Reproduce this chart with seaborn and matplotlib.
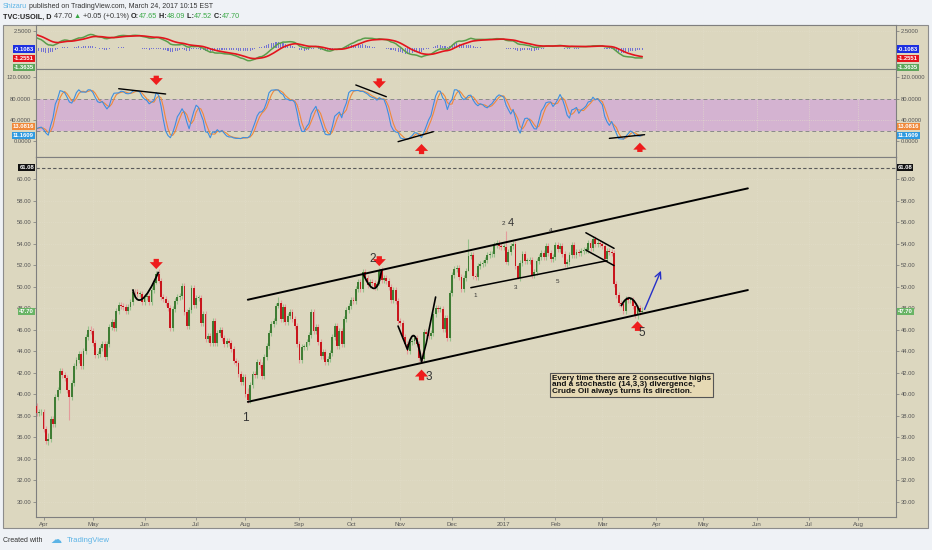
import numpy as np
import pandas as pd
import seaborn as sns
import matplotlib.pyplot as plt
from matplotlib.path import Path
from matplotlib.patches import PathPatch, Rectangle

sns.set_style('white')
plt.rcParams['font.family'] = ['Liberation Sans', 'DejaVu Sans']

W, H = 932, 550
BG = '#dcd7bf'
PAGE = '#eff2f6'
UP, DOWN = '#3f7d34', '#c8161d'
UP_WICK, DOWN_WICK = '#97c18c', '#e49c9c'

# ---- TVC:USOIL daily closes (first bar 2016-03-29) ----
close_mar16 = [38.28, 38.32, 38.34]
close_apr16 = [36.79, 35.70, 35.89, 37.75, 37.26, 39.72, 40.36, 42.17, 41.76, 41.50, 40.36,
               39.78, 41.08, 42.63, 43.18, 43.73, 42.64, 44.04, 45.33, 46.03, 45.92]
close_may16 = [44.78, 43.65, 43.78, 44.32, 44.66, 43.44, 44.66, 46.23, 46.70, 46.21, 47.72,
               48.31, 48.19, 48.16, 47.75, 48.08, 48.62, 49.56, 49.48, 49.33, 49.33, 48.58]
close_jun16 = [49.01, 49.17, 48.62, 49.69, 50.36, 51.23, 50.56, 49.07, 48.88, 48.49, 48.01,
               46.21, 47.98, 48.68, 49.07, 49.13, 50.11, 47.64, 46.33, 47.85, 49.88, 48.33]
close_jul16 = [48.99, 48.99, 46.60, 47.43, 45.14, 45.41, 44.76, 46.80, 44.75, 45.68, 45.95,
               45.24, 44.65, 44.94, 44.75, 44.19, 43.13, 42.92, 41.92, 41.14, 41.60]
close_aug16 = [40.06, 39.51, 40.83, 41.93, 41.80, 43.02, 42.77, 41.71, 43.49, 44.49, 45.74,
               46.58, 46.79, 48.22, 48.52, 47.05, 48.10, 46.77, 47.33, 47.64, 46.98, 46.35, 44.70]
close_sep16 = [43.16, 44.44, 44.44, 44.83, 45.50, 47.62, 45.88, 46.29, 44.90, 43.58, 43.91,
               43.03, 43.30, 43.85, 45.34, 46.32, 44.48, 45.93, 44.67, 47.05, 47.83, 48.24]
close_oct16 = [48.81, 48.69, 49.83, 50.44, 49.81, 51.35, 50.79, 50.18, 50.44, 50.35, 49.94,
               50.29, 51.60, 50.63, 50.85, 50.52, 49.96, 48.78, 49.72, 48.70, 46.86]
close_nov16 = [46.67, 45.34, 44.66, 44.07, 44.89, 44.98, 45.27, 44.66, 43.41, 43.32, 45.81,
               45.57, 45.42, 45.69, 47.49, 48.03, 47.96, 47.96, 46.06, 47.08, 45.23, 49.44]
close_dec16 = [51.06, 51.68, 51.79, 50.93, 49.77, 50.84, 51.50, 52.83, 52.98, 51.04, 50.90,
               51.90, 52.12, 52.23, 52.49, 52.95, 53.02, 53.02, 53.90, 54.06, 53.77, 53.72]
close_jan17 = [53.72, 52.33, 53.26, 53.76, 53.99, 51.96, 50.82, 52.25, 53.01, 52.37, 52.37,
               52.48, 51.08, 51.37, 52.42, 52.75, 53.18, 52.75, 53.78, 53.17, 52.63, 52.81]
close_feb17 = [53.88, 53.54, 53.83, 53.01, 52.17, 52.34, 53.00, 53.86, 52.93, 53.20, 53.11,
               53.36, 53.40, 53.40, 54.06, 53.59, 54.45, 53.99, 54.05, 54.01]
close_mar17 = [53.83, 52.61, 53.33, 53.20, 53.14, 50.28, 49.28, 48.49, 48.40, 47.72, 48.86,
               48.75, 48.78, 48.22, 47.34, 48.04, 47.65, 47.70]
first_open = 38.90
wick = 0.28

# bars whose wicks stick out further
spike_dates = ['2016-04-05', '2016-04-18', '2016-06-08', '2016-06-09', '2016-08-02', '2016-08-19',
               '2016-10-19', '2016-11-14', '2016-12-12', '2017-01-03', '2017-01-10',
               '2017-03-22', '2017-03-24']
spike_high = [36.40, 40.40, 51.45, 51.67, 40.60, 49.05, 51.75, 43.90, 54.45, 55.24, 52.10, 48.30, 48.09]
spike_low = [35.24, 37.61, 50.30, 50.40, 39.19, 48.00, 50.20, 42.90, 51.90, 52.10, 50.75, 47.05, 47.52]

# indicator start states (from the first visible indicator values)
ema12_seed, ema26_seed, signal_seed = 38.9, 37.2, 2.06

# labels shown on the scales
macd_tags = [('-0.1083', -0.1083, '#1c2fe0', 0), ('-1.2551', -1.2551, '#e3141d', -1.4),
             ('-1.3635', -1.3635, '#5da55a', -6.8)]
stoch_tags = [('13.0816', 13.0816, '#f0893a', 5.8), ('11.1609', 11.1609, '#2f9ae0', 0)]
price_tags = [('61.08', 61.08, '#111111'), ('47.70', 47.70, '#69b465')]

month_dates = ['2016-04-01', '2016-05-02', '2016-06-01', '2016-07-01', '2016-08-01', '2016-09-01',
               '2016-10-03', '2016-11-01', '2016-12-01', '2017-01-02', '2017-02-01', '2017-03-01',
               '2017-04-03', '2017-05-01', '2017-06-01', '2017-07-03', '2017-08-01']
month_labels = ['Apr', 'May', 'Jun', 'Jul', 'Aug', 'Sep', 'Oct', 'Nov', 'Dec', '2017', 'Feb', 'Mar',
                'Apr', 'May', 'Jun', 'Jul', 'Aug']

closes = (close_mar16 + close_apr16 + close_may16 + close_jun16 + close_jul16 + close_aug16 +
          close_sep16 + close_oct16 + close_nov16 + close_dec16 + close_jan17 + close_feb17 + close_mar17)
dates = pd.bdate_range('2016-03-29', '2017-09-29')
n = len(closes)
df = pd.DataFrame({'date': dates[:n], 'close': closes})
df['open'] = df['close'].shift(1).fillna(first_open)
df['high'] = df[['open', 'close']].max(axis=1) + wick
df['low'] = df[['open', 'close']].min(axis=1) - wick
for d, h, l in zip(spike_dates, spike_high, spike_low):
    i = dates.get_loc(pd.Timestamp(d))
    df.loc[i, 'high'] = max(h, df.loc[i, ['open', 'close']].max())
    df.loc[i, 'low'] = min(l, df.loc[i, ['open', 'close']].min())
df['i'] = np.arange(n)


def bar(d):
    return dates.get_loc(pd.Timestamp(d))


# stochastic (14,3,3)
hh = df['high'].rolling(14, min_periods=1).max()
ll = df['low'].rolling(14, min_periods=1).min()
df['k'] = (100 * (df['close'] - ll) / (hh - ll)).rolling(3, min_periods=1).mean()
df['d'] = df['k'].rolling(3, min_periods=1).mean()


# MACD (12,26,9)
def ema(values, seed, span):
    s = pd.concat([pd.Series([seed]), pd.Series(values)], ignore_index=True)
    return s.ewm(span=span, adjust=False).mean().iloc[1:].to_numpy()


df['macd'] = ema(df['close'], ema12_seed, 12) - ema(df['close'], ema26_seed, 26)
df['signal'] = ema(df['macd'], signal_seed, 9)
df['hist'] = df['macd'] - df['signal']

# ---------------- figure ----------------
fig = plt.figure(figsize=(W / 100, H / 100), dpi=100)
fig.patch.set_facecolor(PAGE)


def fx(x):
    return x / W


def fy(y):
    return 1 - y / H


fig.add_artist(Rectangle((fx(3), fy(528)), (928 - 3) / W, (528 - 25) / H, transform=fig.transFigure,
                         fc=BG, ec='#8c8c8c', lw=0.8, zorder=-5))

L, R = 35.7, 896
ax_m = fig.add_axes([fx(L), fy(69.3), (R - L) / W, (69.3 - 25) / H])
ax_s = fig.add_axes([fx(L), fy(157.3), (R - L) / W, (157.3 - 69.3) / H])
ax_p = fig.add_axes([fx(L), fy(517.3), (R - L) / W, (517.3 - 157.3) / H])

month_idx = [bar(d) for d in month_dates]
for ax in (ax_m, ax_s, ax_p):
    ax.set_facecolor(BG)
    ax.set_xlim(-0.35, 366.1)
    for s in ax.spines.values():
        s.set_color('#7f7f7f')
        s.set_linewidth(0.8)
    ax.set_xticks(month_idx)
    ax.tick_params(axis='y', left=True, right=True, labelleft=True, labelright=True, length=2,
                   width=0.5, pad=1.2, labelsize=4.2, labelcolor='#555555', color='#777777')
    ax.tick_params(axis='x', bottom=False, labelbottom=False)
    ax.grid(True, color='#e3dfcb', lw=0.5, ls=':')

# --- MACD pane (only the top scale label is not hidden behind the value tags)
ax_m.set_ylim(-3.05, 3.37)
ax_m.set_yticks([2.5])
ax_m.set_yticklabels(['2.5000'])
ax_m.bar(df['i'], df['hist'], width=0.45, color='#5a5ad8', linewidth=0, alpha=0.8)
sns.lineplot(x=df['i'], y=df['macd'], ax=ax_m, color='#5a9e4b', lw=1.1, legend=False)
sns.lineplot(x=df['i'], y=df['signal'], ax=ax_m, color='#e3141d', lw=1.2, legend=False)
ax_m.set_xlabel('')
ax_m.set_ylabel('')

# --- stochastic pane
ax_s.set_ylim(-30, 135)
ax_s.set_yticks([120, 80, 40, 0])
ax_s.set_yticklabels(['120.0000', '80.0000', '40.0000', '0.0000'])
ax_s.axhspan(20, 80, color='#d4b3d1', zorder=0.5, lw=0)
for lvl in (20, 80):
    ax_s.axhline(lvl, color='#8a8a8a', lw=0.7, ls=(0, (4, 3)), zorder=1)
sns.lineplot(x=df['i'], y=df['d'], ax=ax_s, color='#f0893a', lw=0.8, legend=False)
sns.lineplot(x=df['i'], y=df['k'], ax=ax_s, color='#3d8fe0', lw=0.8, legend=False)
ax_s.set_xlabel('')
ax_s.set_ylabel('')

# --- price pane
ax_p.set_ylim(28.56, 62.05)
ticks = np.arange(30, 61, 2)
ax_p.set_yticks(ticks)
ax_p.set_yticklabels([f'{t:.2f}' for t in ticks])
ax_p.tick_params(axis='x', bottom=True, labelbottom=True, length=2, width=0.5, pad=1.2,
                 labelsize=4.4, labelcolor='#555555', color='#777777')
ax_p.set_xticklabels(month_labels)
ax_p.axhline(61.08, color='#5a5a5a', lw=0.8, ls=(0, (3, 2)))

up = df['close'] >= df['open']
ax_p.vlines(df['i'], df['low'], df['high'], colors=np.where(up, UP_WICK, DOWN_WICK), lw=0.8, zorder=2)
ax_p.bar(df['i'], np.maximum((df['close'] - df['open']).abs(), 0.08),
         bottom=np.minimum(df['open'], df['close']), width=0.78,
         color=np.where(up, UP, DOWN), linewidth=0, zorder=3)


# ---------- annotations ----------
def seg(ax, pts, lw=1.4, color='black'):
    xs = [bar(d) for d, _ in pts]
    ys = [v for _, v in pts]
    ax.plot(xs, ys, color=color, lw=lw, solid_capstyle='round', zorder=5)


def arc(ax, p0, mid, p2, lw=1.3):
    x0, y0 = bar(p0[0]), p0[1]
    x1, y1 = bar(mid[0]), mid[1]
    x2, y2 = bar(p2[0]), p2[1]
    cx, cy = 2 * x1 - (x0 + x2) / 2, 2 * y1 - (y0 + y2) / 2
    path = Path([(x0, y0), (cx, cy), (x2, y2)], [Path.MOVETO, Path.CURVE3, Path.CURVE3])
    ax.add_patch(PathPatch(path, fc='none', ec='black', lw=lw, zorder=5))


def red_arrow(ax, d, tail, tip):
    ax.annotate('', xy=(bar(d), tip), xytext=(bar(d), tail), zorder=6,
                arrowprops=dict(arrowstyle='simple,head_length=0.5,head_width=0.95,tail_width=0.38',
                                color='#ee1c1c', lw=0, shrinkA=0, shrinkB=0))


def label(ax, d, y, s, size=8.5):
    ax.text(bar(d), y, s, fontsize=size, color='#333333', ha='center', va='center', zorder=6)


# channel
seg(ax_p, [('2016-08-02', 48.8), ('2017-05-26', 59.16)])
seg(ax_p, [('2016-08-02', 39.3), ('2017-05-26', 49.7)])
# inner support and March flag
seg(ax_p, [('2016-12-13', 49.92), ('2017-03-03', 52.43)], lw=1.1)
seg(ax_p, [('2017-02-20', 55.03), ('2017-03-08', 53.58)], lw=1.1)
seg(ax_p, [('2017-02-20', 53.42), ('2017-03-08', 51.98)], lw=1.1)
# swing sketches
arc(ax_p, ('2016-05-25', 49.77), ('2016-05-31', 48.86), ('2016-06-09', 51.4))
arc(ax_p, ('2016-10-10', 51.26), ('2016-10-17', 49.86), ('2016-10-20', 51.65))
seg(ax_p, [('2016-10-31', 46.35), ('2016-11-04', 44.18)], lw=1.2)
arc(ax_p, ('2016-11-04', 44.18), ('2016-11-09', 45.42), ('2016-11-14', 43.05))
seg(ax_p, [('2016-11-14', 43.05), ('2016-11-16', 44.74), ('2016-11-22', 49.05)], lw=1.2)
arc(ax_p, ('2017-03-13', 48.21), ('2017-03-17', 48.95), ('2017-03-23', 47.65))
ax_p.annotate('', xy=(bar('2017-04-05'), 51.5), xytext=(bar('2017-03-27'), 47.9), zorder=6,
              arrowprops=dict(arrowstyle='->,head_length=0.45,head_width=0.22', color='#2630c8', lw=1.0,
                              shrinkA=0, shrinkB=0))

red_arrow(ax_p, '2016-06-08', 52.6, 51.65)
red_arrow(ax_p, '2016-10-19', 52.85, 51.93)
red_arrow(ax_p, '2016-11-14', 41.3, 42.3)
red_arrow(ax_p, '2017-03-22', 45.9, 46.8)

label(ax_p, '2016-08-01', 37.77, '1')
label(ax_p, '2016-10-14', 52.56, '2')
label(ax_p, '2016-11-17', 41.64, '3')
label(ax_p, '2017-01-05', 55.96, '4', 8)
label(ax_p, '2017-03-24', 45.67, '5')
label(ax_p, '2016-12-15', 49.17, '1', 4.5)
label(ax_p, '2017-01-02', 55.9, '2', 4.5)
label(ax_p, '2017-01-09', 49.9, '3', 4.5)
label(ax_p, '2017-01-30', 55.2, '4', 4.5)
label(ax_p, '2017-02-02', 50.5, '5', 4.5)

ax_p.text(bar('2017-01-27') + 1.5, 41.83,
          'Every time there are 2 consecutive highs\nand a stochastic (14,3,3) divergence,\n'
          'Crude Oil always turns its direction.',
          fontsize=5.9, fontweight='bold', color='#111111', ha='left', va='top', linespacing=0.92,
          zorder=7, bbox=dict(boxstyle='square,pad=0.25', fc='#e6d9b4', ec='#555555', lw=0.8))

# stochastic divergence marks
seg(ax_s, [('2016-05-17', 98.6), ('2016-06-14', 88.7)], lw=1.0)
seg(ax_s, [('2016-10-05', 105.6), ('2016-10-24', 83.6)], lw=1.0)
seg(ax_s, [('2016-10-31', -0.7), ('2016-11-21', 18.0)], lw=1.0)
seg(ax_s, [('2017-03-06', 5.5), ('2017-03-27', 12.4)], lw=1.0)
red_arrow(ax_s, '2016-06-08', 123, 105.5)
red_arrow(ax_s, '2016-10-19', 118, 99.5)
red_arrow(ax_s, '2016-11-14', -24, -5)
red_arrow(ax_s, '2017-03-23', -20, -2.6)


# ---------- value tags on both scales ----------
def tag(ax, y, text, color, dy=0):
    for side in ('left', 'right'):
        x = 1.0 if side == 'right' else 0.0
        ax.annotate(text, xy=(x, y), xycoords=ax.get_yaxis_transform(),
                    xytext=((1.2 if side == 'right' else -1.2), dy), textcoords='offset points',
                    ha='left' if side == 'right' else 'right', va='center', fontsize=4.2,
                    color='white', fontweight='bold', annotation_clip=False, zorder=10,
                    bbox=dict(boxstyle='square,pad=0.18', fc=color, ec='none'))


for text, v, c, dy in macd_tags:
    tag(ax_m, v, text, c, dy)
for text, v, c, dy in stoch_tags:
    tag(ax_s, v, text, c, dy)
for text, v, c in price_tags:
    tag(ax_p, v, text, c)


# ---------- header / footer ----------
renderer = fig.canvas.get_renderer()


def line_of_text(x, y, parts, size):
    for s, color, weight in parts:
        t = fig.text(fx(x), fy(y), s, fontsize=size, color=color, fontweight=weight, ha='left', va='center')
        x += t.get_window_extent(renderer).width


G = '#39a845'
line_of_text(3, 7, [('Shizaru', '#5cb4e6', 'normal'),
                    (' published on TradingView.com, March 24, 2017 10:15 EST', '#333333', 'normal')], 5.0)
line_of_text(3, 17, [('TVC:USOIL, D', '#222222', 'bold'), (' 47.70 ', '#333333', 'normal'),
                     ('\u25b2', G, 'normal'), (' +0.05 (+0.1%) ', '#333333', 'normal'),
                     ('O:', '#222222', 'bold'), ('47.65', G, 'normal'), (' H:', '#222222', 'bold'),
                     ('48.09', G, 'normal'), (' L:', '#222222', 'bold'), ('47.52', G, 'normal'),
                     (' C:', '#222222', 'bold'), ('47.70', G, 'normal')], 5.2)
fig.text(fx(3), fy(540), 'Created with', fontsize=5.0, color='#333333', ha='left', va='center')
fig.text(fx(50), fy(540), '\u2601', fontsize=8, color='#5cb4e6', ha='left', va='center', family='DejaVu Sans')
fig.text(fx(67), fy(540), 'TradingView', fontsize=5.6, color='#5cb4e6', ha='left', va='center')

fig.savefig('out.png', dpi=100, facecolor=PAGE)
